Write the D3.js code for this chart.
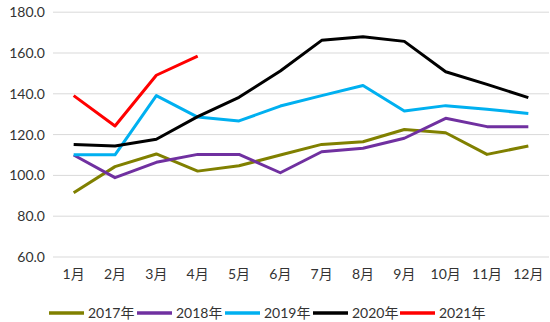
<!DOCTYPE html>
<html><head><meta charset="utf-8">
<script src="https://cdn.jsdelivr.net/npm/d3@7"></script>
<style>
html,body{margin:0;padding:0;background:#fff;}
text{font-family:Lato,"Noto Sans CJK SC",sans-serif;fill:#333;}
</style></head>
<body><svg id="c" width="550" height="322"></svg>
<script>
const months = ["1月","2月","3月","4月","5月","6月","7月","8月","9月","10月","11月","12月"];
const yTicks = [60,80,100,120,140,160,180];
const seriesNames = ["2017年","2018年","2019年","2020年","2021年"];
const seriesColors = ["#808000","#7030A0","#00B0F0","#000000","#FF0000"];
const v2017 = [91.5,104.3,110.5,102.1,104.7,110.0,115.2,116.5,122.5,120.9,110.3,114.4];
const v2018 = [110.0,98.9,106.4,110.3,110.3,101.3,111.6,113.3,118.2,128.0,123.9,123.9];
const v2019 = [110.1,110.1,139.1,128.6,126.7,134.0,139.1,144.1,131.6,134.2,132.4,130.4];
const v2020 = [115.2,114.4,117.7,128.8,138.3,151.2,166.2,168.0,165.7,150.8,144.6,138.1];
const v2021 = [139.1,124.2,149.1,158.5];
const allValues = [v2017,v2018,v2019,v2020,v2021];

const svg = d3.select("#c");
const x = d3.scaleBand().domain(months).range([53,549]);
const y = d3.scaleLinear().domain([60,180]).range([257,12.2]);

svg.append("g").selectAll("line").data(yTicks).join("line")
  .attr("x1",53).attr("x2",549)
  .attr("y1",d=>y(d)).attr("y2",d=>y(d))
  .attr("stroke","#d9d9d9").attr("stroke-width",1);

const yAxis = d3.axisLeft(y).tickValues(yTicks).tickFormat(d3.format(".1f")).tickSize(0).tickPadding(8);
const gy = svg.append("g").attr("transform","translate(53,0)").call(yAxis);
gy.select(".domain").remove();
gy.selectAll("text").style("font-size","14px").attr("fill","#333");

const xAxis = d3.axisBottom(x).tickSize(0).tickPadding(12);
const gx = svg.append("g").attr("transform","translate(0,257)").call(xAxis);
gx.select(".domain").remove();
gx.selectAll("text").style("font-size","14px").attr("fill","#333");

const line = d3.line().x((d,i)=>x(months[i])+x.bandwidth()/2).y(d=>y(d));
allValues.forEach((vals,i)=>{
  svg.append("path").datum(vals).attr("d",line)
    .attr("fill","none").attr("stroke",seriesColors[i])
    .attr("stroke-width",3).attr("stroke-linejoin","round");
});

const legX = [49,137,225,313,400];
const lg = svg.append("g");
seriesNames.forEach((n,i)=>{
  lg.append("line").attr("x1",legX[i]).attr("x2",legX[i]+35).attr("y1",313).attr("y2",313)
    .attr("stroke",seriesColors[i]).attr("stroke-width",3.5);
  lg.append("text").attr("x",legX[i]+39).attr("y",313).attr("dy","0.35em")
    .style("font-size","14px").text(n);
});
</script></body></html>
